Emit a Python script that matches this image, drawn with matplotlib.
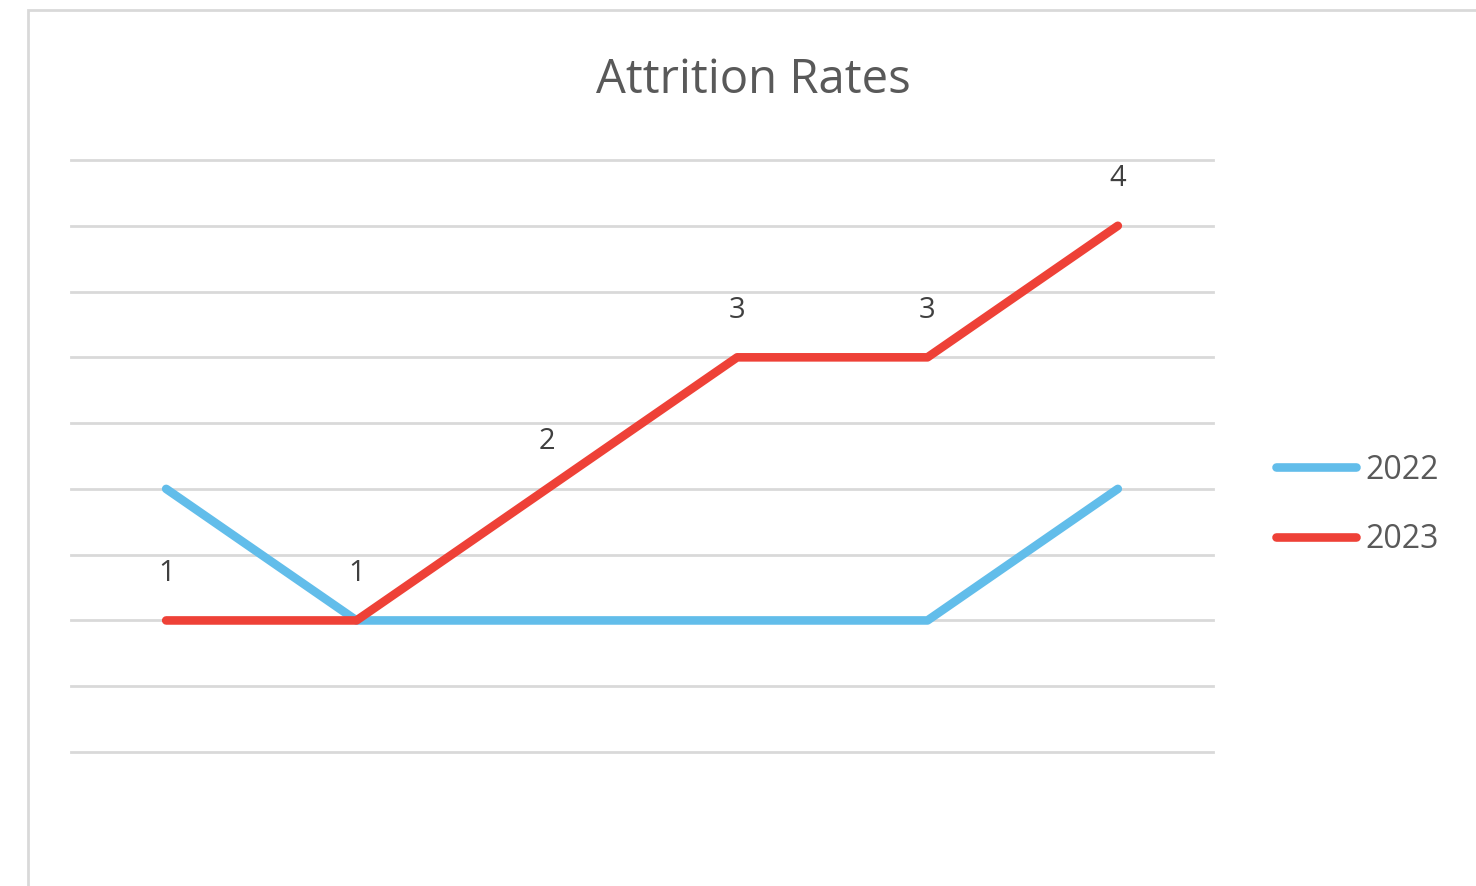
import matplotlib.pyplot as plt
from matplotlib.patches import Rectangle

plt.rcParams['font.family'] = ['Open Sans', 'DejaVu Sans']

# attrition counts per period
periods = ['P1', 'P2', 'P3', 'P4', 'P5', 'P6']
rate_2022 = [2, 1, 1, 1, 1, 2]
rate_2023 = [1, 1, 2, 3, 3, 4]

fig = plt.figure(figsize=(14.76, 8.86), dpi=100)

# chart area border (runs past the right and bottom edges)
fig.patches.append(Rectangle((28 / 1476, -0.1), 1.2, 1.1 - 10 / 886,
                             transform=fig.transFigure, fill=False,
                             edgecolor='#d9d9d9', linewidth=2))

ax = fig.add_axes([71 / 1476, 1 - 752 / 886, (1213 - 71) / 1476, (752 - 160) / 886])
x = range(len(periods))
ax.plot(x, rate_2022, color='#62bdea', lw=6.2, solid_capstyle='round',
        solid_joinstyle='round', label='2022', zorder=3)
ax.plot(x, rate_2023, color='#ee4137', lw=6.2, solid_capstyle='round',
        solid_joinstyle='round', label='2023', zorder=4)

for i, v in enumerate(rate_2023):
    ax.annotate('{:g}'.format(v), (i, v), xytext=(0, 34), textcoords='offset points',
                ha='center', va='center', fontsize=21, color='#404040')

ax.set_xlim(-0.5, len(periods) - 0.5)
ax.set_ylim(0, 4.5)
ax.set_yticks([i * 0.5 for i in range(10)])
ax.grid(axis='y', color='#d9d9d9', lw=2)
for gl in ax.get_ygridlines():
    gl.set_clip_on(False)
ax.set_axisbelow(True)
ax.tick_params(left=False, bottom=False, labelleft=False, labelbottom=False)
for s in ax.spines.values():
    s.set_visible(False)

fig.text(753 / 1476, 1 - 93 / 886, 'Attrition Rates', ha='center', va='baseline',
         fontsize=34, color='#595959')

leg = fig.legend(*ax.get_legend_handles_labels(), loc='center left',
                 bbox_to_anchor=(1276 / 1476, 1 - 505 / 886), frameon=False,
                 fontsize=23, borderpad=0, borderaxespad=0, handlelength=2.5,
                 handletextpad=0.3, labelspacing=1.15)
for t in leg.get_texts():
    t.set_color('#595959')

fig.savefig('out.png', dpi=100)
